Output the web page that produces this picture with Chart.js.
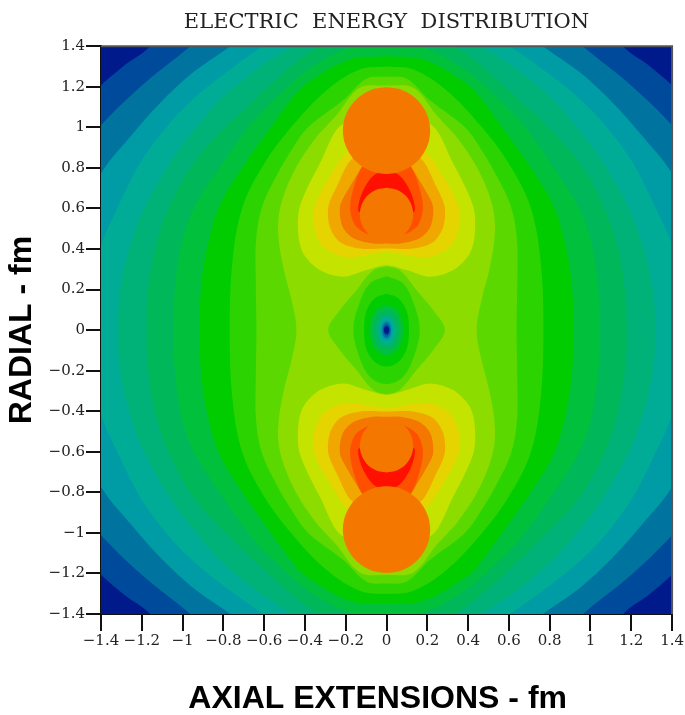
<!DOCTYPE html>
<html>
<head>
<meta charset="utf-8">
<title>Electric energy distribution</title>
<script src="https://cdn.jsdelivr.net/npm/chart.js@4/dist/chart.umd.min.js"></script>
<style>
  html, body { margin: 0; background: #fff; }
  canvas { display: block; }
</style>
</head>
<body>
<canvas id="chart" width="685" height="715"></canvas>
<script>
const xTickLabels = ["\u22121.4", "\u22121.2", "\u22121", "\u22120.8", "\u22120.6", "\u22120.4", "\u22120.2", "0", "0.2", "0.4", "0.6", "0.8", "1", "1.2", "1.4"]
const yTickLabels = ["1.4", "1.2", "1", "0.8", "0.6", "0.4", "0.2", "0", "\u22120.2", "\u22120.4", "\u22120.6", "\u22120.8", "\u22121", "\u22121.2", "\u22121.4"]

// contour outlines, upper right quadrant only, [x, y] in fm
// they run on a little past the axes so the curves leave the plot cleanly, the plot clips them
const plotCorner = [[0, 1.7], [1.7, 1.7], [1.7, 0]]
const level1 = [[0, 1.7], [0.95, 1.7], [1.16, 1.4], [1.28, 1.31], [1.4, 1.207], [1.7, 0.9], [1.7, 0]]
const level2 = [[0, 1.7], [0.7, 1.65], [0.963, 1.4], [1.19, 1.215], [1.4, 1.01], [1.65, 0.7], [1.7, 0]]
const level3 = [[0, 1.7], [0.5, 1.62], [0.767, 1.4], [0.949, 1.27], [1.11, 1.12], [1.243, 0.97], [1.4, 0.773], [1.55, 0.45], [1.6, 0]]
const level4 = [[0, 1.65], [0.35, 1.56], [0.605, 1.4], [0.8, 1.26], [0.949, 1.138], [1.08, 1.0], [1.21, 0.82], [1.316, 0.61], [1.4, 0.42], [1.46, 0.2], [1.48, 0]]
const level5 = [[0, 1.55], [0.25, 1.5], [0.458, 1.4], [0.622, 1.297], [0.818, 1.133], [0.924, 1.01], [1.04, 0.86], [1.184, 0.61], [1.259, 0.411], [1.308, 0.181], [1.316, 0]]
const level6 = [[0, 1.48], [0.15, 1.46], [0.328, 1.4], [0.458, 1.31], [0.687, 1.1], [0.8, 0.99], [0.949, 0.82], [1.065, 0.61], [1.13, 0.42], [1.169, 0.197], [1.177, 0]]
const level7 = [[0, 1.42], [0.164, 1.4], [0.377, 1.289], [0.556, 1.133], [0.679, 1.0], [0.82, 0.8], [0.94, 0.61], [1.005, 0.43], [1.038, 0.197], [1.046, 0]]
const level8 = [[0, 1.35], [0.181, 1.335], [0.393, 1.215], [0.458, 1.148], [0.566, 1.0], [0.7, 0.81], [0.82, 0.61], [0.885, 0.38], [0.912, 0.18], [0.916, 0]]
const level9 = [[0, 1.3], [0.132, 1.285], [0.295, 1.182], [0.468, 1.0], [0.6, 0.82], [0.705, 0.61], [0.755, 0.345], [0.769, 0]]
const level10 = [[0, 1.25], [0.099, 1.24], [0.213, 1.133], [0.385, 1.0], [0.458, 0.9], [0.54, 0.76], [0.61, 0.61], [0.64, 0.443], [0.641, 0.23], [0.638, 0]]
const level11 = [[0, 1.207], [0.132, 1.195], [0.246, 1.059], [0.3, 1.0], [0.344, 0.952], [0.442, 0.805], [0.515, 0.63], [0.532, 0.493], [0.507, 0.312], [0.466, 0.148], [0.442, 0]]

// the dip around the origin, same quadrant
const well1 = [[0, 0.315], [0.065, 0.295], [0.147, 0.197], [0.229, 0.098], [0.286, 0]]
const well2 = [[0, 0.266], [0.082, 0.23], [0.139, 0.115], [0.163, 0]]
const well3 = [[0, 0.18], [0.06, 0.155], [0.1, 0.09], [0.11, 0]]
const well4 = [[0, 0.125], [0.045, 0.105], [0.072, 0.06], [0.082, 0]]
const well5 = [[0, 0.1], [0.036, 0.085], [0.057, 0.048], [0.065, 0]]
const well6 = [[0, 0.08], [0.028, 0.068], [0.044, 0.038], [0.05, 0]]
const well7 = [[0, 0.065], [0.022, 0.055], [0.035, 0.031], [0.04, 0]]
const well8 = [[0, 0.05], [0.016, 0.042], [0.026, 0.024], [0.03, 0]]
const well9 = [[0, 0.04], [0.012, 0.034], [0.019, 0.019], [0.022, 0]]
const well10 = [[0, 0.027], [0.009, 0.023], [0.014, 0.013], [0.016, 0]]
const well11 = [[0, 0.018], [0.007, 0.015], [0.011, 0.009], [0.013, 0]]

// the upper lobe, right half only, from its top down to its bottom
const lobe1 = [[0, 0.98], [0.212, 1.018], [0.327, 0.821], [0.425, 0.61], [0.433, 0.476], [0.408, 0.378], [0.327, 0.296], [0.212, 0.263], [0.098, 0.296], [0, 0.32]]
const lobe2 = [[0, 0.98], [0.191, 0.878], [0.278, 0.755], [0.352, 0.61], [0.351, 0.493], [0.31, 0.411], [0.212, 0.361], [0.098, 0.369], [0, 0.386]]
const lobe3 = [[0, 0.98], [0.176, 0.837], [0.237, 0.722], [0.285, 0.61], [0.278, 0.509], [0.229, 0.435], [0.131, 0.402], [0, 0.402]]
const lobe4 = [[0, 0.98], [0.123, 0.801], [0.19, 0.69], [0.228, 0.61], [0.215, 0.509], [0.16, 0.452], [0.065, 0.427], [0, 0.427]]
const lobe5 = [[0, 0.98], [0.123, 0.801], [0.15, 0.739], [0.176, 0.64], [0.176, 0.575], [0.147, 0.509], [0.069, 0.468], [0, 0.5]]
const lobe6 = [[0, 0.78], [0.049, 0.772], [0.085, 0.739], [0.118, 0.681], [0.136, 0.624], [0.134, 0.583], [0, 0.583]]
const innerDisc = [[0, 0.702], [0.05, 0.692], [0.093, 0.664], [0.121, 0.621], [0.131, 0.571], [0.121, 0.521], [0.093, 0.478], [0.05, 0.45], [0, 0.44]]
const outerDisc = [[0, 1.198], [0.055, 1.191], [0.107, 1.169], [0.151, 1.135], [0.185, 1.091], [0.207, 1.039], [0.214, 0.984], [0.207, 0.929], [0.185, 0.877], [0.151, 0.833], [0.107, 0.799], [0.055, 0.777], [0, 0.77]]

const levelColors = ["#001a8c", "#004a9c", "#00749f", "#009ca6", "#00ac96", "#00b278", "#00b85a", "#00c03c", "#00cc00", "#2bd400", "#5ad800", "#8cdc00"]
const wellColors = ["#5ad800", "#2bd400", "#00cc00", "#00c03c", "#00b85a", "#00b278", "#00ac96", "#009ca6", "#00749f", "#004a9c", "#001a8c"]
const lobeColors = ["#c4e400", "#e6d400", "#f0a800", "#f47800", "#ff5000", "#ff1000", "#f47800", "#f47800"]

// the points on an axis would otherwise appear twice and put a kink in the curve
function dropRepeats(points) {
    return points.filter((p, i) => i === 0 || p[0] !== points[i - 1][0] || p[1] !== points[i - 1][1])
}

function mirrorX(half) {
    const left = half.slice().reverse().map(p => [p[0] === 0 ? 0 : -p[0], p[1]])
    return dropRepeats(half.concat(left))
}

function mirrorY(points) {
    return points.map(p => [p[0], p[1] === 0 ? 0 : -p[1]])
}

// quadrant -> whole closed outline
function wholeOutline(quadrant) {
    const right = dropRepeats(quadrant.concat(mirrorY(quadrant).reverse()))
    return mirrorX(right)
}

function band(points, color, tension) {
    return {
        data: points.map(p => ({ x: p[0], y: p[1] })),
        showLine: true,
        fill: "shape",
        backgroundColor: color,
        borderWidth: 0,
        pointRadius: 0,
        tension: tension,
    }
}

const levels = [plotCorner, level1, level2, level3, level4, level5, level6, level7, level8, level9, level10, level11]
const wells = [well1, well2, well3, well4, well5, well6, well7, well8, well9, well10, well11]
const lobes = [lobe1, lobe2, lobe3, lobe4, lobe5, lobe6, innerDisc, outerDisc]

const datasets = []
levels.forEach((q, i) => datasets.push(band(wholeOutline(q), levelColors[i], i === 0 ? 0 : 0.35)))
wells.forEach((q, i) => datasets.push(band(wholeOutline(q), wellColors[i], 0.35)))
lobes.forEach((half, i) => {
    datasets.push(band(mirrorX(half), lobeColors[i], 0.3))
    datasets.push(band(mirrorY(mirrorX(half)), lobeColors[i], 0.3))
})
datasets.forEach((d, i) => { d.order = -i })

// thin top and right edge of the frame
datasets.push({
    data: [{ x: -1.4, y: 1.4 }, { x: 1.4, y: 1.4 }, { x: 1.4, y: -1.4 }],
    showLine: true,
    fill: false,
    borderColor: "#555555",
    borderWidth: 2,
    pointRadius: 0,
    clip: false,
    order: -1000,
})

const tickFont = { family: "'DejaVu Serif'", size: 15 }
const titleFont = { family: "'Liberation Sans'", size: 32, weight: "bold", lineHeight: 1 }

new Chart(document.getElementById("chart"), {
    type: "scatter",
    data: { datasets: datasets },
    options: {
        responsive: false,
        animation: false,
        layout: { padding: { right: 11 } },
        plugins: {
            legend: { display: false },
            tooltip: { enabled: false },
            title: {
                display: true,
                text: "ELECTRIC  ENERGY  DISTRIBUTION",
                fullSize: false,
                color: "#222222",
                font: { family: "'DejaVu Serif'", size: 21, weight: "normal" },
                padding: { top: 10, bottom: 11 },
            },
        },
        scales: {
            x: {
                type: "linear",
                min: -1.4,
                max: 1.4,
                afterFit: scale => { scale.height = 101 },
                afterBuildTicks: scale => { scale.ticks = xTickLabels.map((l, i) => ({ value: -1.4 + i * 0.2 })) },
                border: { color: "#111111", width: 2 },
                grid: { drawOnChartArea: false, color: "#111111", tickLength: 17, lineWidth: 2 },
                ticks: {
                    color: "#222222",
                    font: tickFont,
                    padding: 1,
                    maxRotation: 0,
                    autoSkip: false,
                    callback: (v, i) => xTickLabels[i],
                },
                title: { display: true, text: "AXIAL EXTENSIONS - fm  ", color: "#000000", font: titleFont, padding: { top: 0, bottom: 0 } },
            },
            y: {
                type: "linear",
                min: -1.4,
                max: 1.4,
                afterFit: scale => { scale.width = 101 },
                afterBuildTicks: scale => { scale.ticks = yTickLabels.map((l, i) => ({ value: 1.4 - i * 0.2 })).reverse() },
                border: { color: "#111111", width: 2 },
                grid: { drawOnChartArea: false, color: "#111111", tickLength: 15, lineWidth: 2 },
                ticks: {
                    color: "#222222",
                    font: tickFont,
                    padding: 1,
                    autoSkip: false,
                    callback: (v, i) => yTickLabels[yTickLabels.length - 1 - i],
                },
                title: { display: true, text: "RADIAL - fm", color: "#000000", font: titleFont, padding: { top: 6, bottom: 0 } },
            },
        },
    },
})
</script>
</body>
</html>
